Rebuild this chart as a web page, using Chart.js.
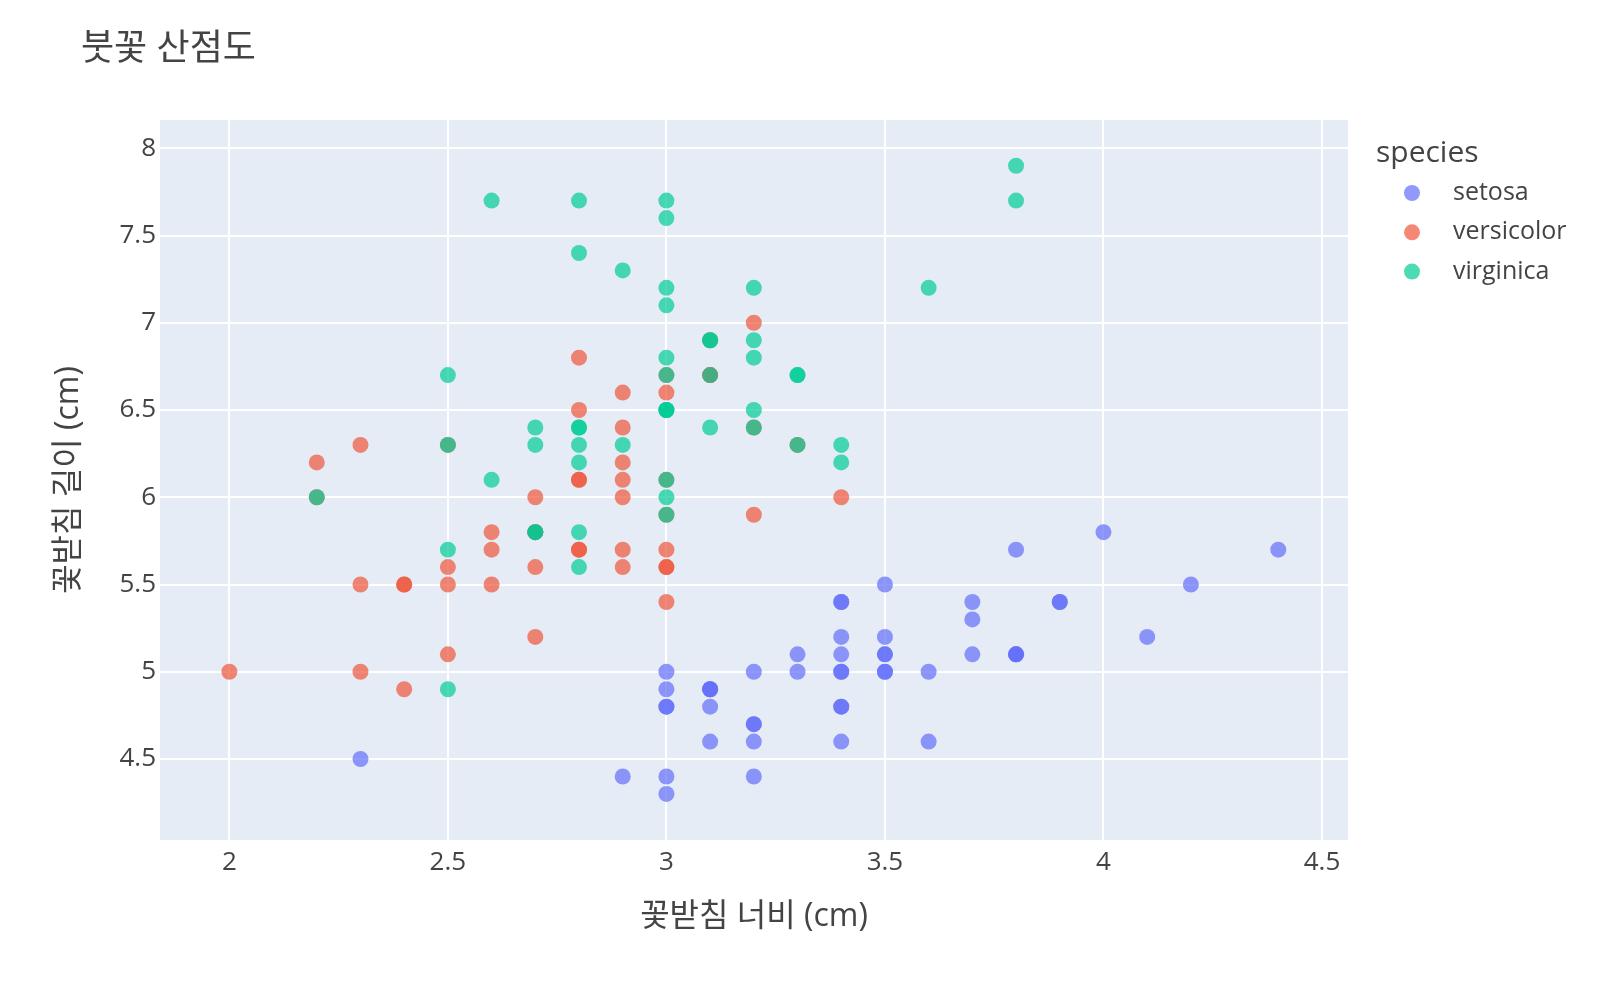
<!DOCTYPE html>
<html lang="ko">
<head>
<meta charset="utf-8">
<title>붓꽃 산점도</title>
<script src="https://cdn.jsdelivr.net/npm/chart.js@4/dist/chart.umd.min.js"></script>
<style>
  html, body { margin: 0; padding: 0; background: #fff; }
  #wrap { width: 1600px; height: 1000px; }
</style>
</head>
<body>
<div id="wrap"><canvas id="iris-chart" width="1600" height="1000"></canvas></div>
<script>
// 꽃받침 너비 / 길이 (cm), species by species
let setosaWidth = [3.5, 3.0, 3.2, 3.1, 3.6, 3.9, 3.4, 3.4, 2.9, 3.1, 3.7, 3.4, 3.0, 3.0, 4.0, 4.4, 3.9, 3.5, 3.8, 3.8,
    3.4, 3.7, 3.6, 3.3, 3.4, 3.0, 3.4, 3.5, 3.4, 3.2, 3.1, 3.4, 4.1, 4.2, 3.1, 3.2, 3.5, 3.1, 3.0, 3.4,
    3.5, 2.3, 3.2, 3.5, 3.8, 3.0, 3.8, 3.2, 3.7, 3.3];
let setosaLength = [5.1, 4.9, 4.7, 4.6, 5.0, 5.4, 4.6, 5.0, 4.4, 4.9, 5.4, 4.8, 4.8, 4.3, 5.8, 5.7, 5.4, 5.1, 5.7, 5.1,
    5.4, 5.1, 4.6, 5.1, 4.8, 5.0, 5.0, 5.2, 5.2, 4.7, 4.8, 5.4, 5.2, 5.5, 4.9, 5.0, 5.5, 4.9, 4.4, 5.1,
    5.0, 4.5, 4.4, 5.0, 5.1, 4.8, 5.1, 4.6, 5.3, 5.0];

let versicolorWidth = [3.2, 3.2, 3.1, 2.3, 2.8, 2.8, 3.3, 2.4, 2.9, 2.7, 2.0, 3.0, 2.2, 2.9, 2.9, 3.1, 3.0, 2.7, 2.2, 2.5,
    3.2, 2.8, 2.5, 2.8, 2.9, 3.0, 2.8, 3.0, 2.9, 2.6, 2.4, 2.4, 2.7, 2.7, 3.0, 3.4, 3.1, 2.3, 3.0, 2.5,
    2.6, 3.0, 2.6, 2.3, 2.7, 3.0, 2.9, 2.9, 2.5, 2.8];
let versicolorLength = [7.0, 6.4, 6.9, 5.5, 6.5, 5.7, 6.3, 4.9, 6.6, 5.2, 5.0, 5.9, 6.0, 6.1, 5.6, 6.7, 5.6, 5.8, 6.2, 5.6,
    5.9, 6.1, 6.3, 6.1, 6.4, 6.6, 6.8, 6.7, 6.0, 5.7, 5.5, 5.5, 5.8, 6.0, 5.4, 6.0, 6.7, 6.3, 5.6, 5.5,
    5.5, 6.1, 5.8, 5.0, 5.6, 5.7, 5.7, 6.2, 5.1, 5.7];

let virginicaWidth = [3.3, 2.7, 3.0, 2.9, 3.0, 3.0, 2.5, 2.9, 2.5, 3.6, 3.2, 2.7, 3.0, 2.5, 2.8, 3.2, 3.0, 3.8, 2.6, 2.2,
    3.2, 2.8, 2.8, 2.7, 3.3, 3.2, 2.8, 3.0, 2.8, 3.0, 2.8, 3.8, 2.8, 2.8, 2.6, 3.0, 3.4, 3.1, 3.0, 3.1,
    3.1, 3.1, 2.7, 3.2, 3.3, 3.0, 2.5, 3.0, 3.4, 3.0];
let virginicaLength = [6.3, 5.8, 7.1, 6.3, 6.5, 7.6, 4.9, 7.3, 6.7, 7.2, 6.5, 6.4, 6.8, 5.7, 5.8, 6.4, 6.5, 7.7, 7.7, 6.0,
    6.9, 5.6, 7.7, 6.3, 6.7, 7.2, 6.2, 6.1, 6.4, 7.2, 7.4, 7.9, 6.4, 6.3, 6.1, 7.7, 6.3, 6.4, 6.0, 6.9,
    6.7, 6.9, 5.8, 6.8, 6.7, 6.7, 6.3, 6.5, 6.2, 5.9];

let speciesNames = ["setosa", "versicolor", "virginica"];
let xTicks = [2, 2.5, 3, 3.5, 4, 4.5];
let yTicks = [4.5, 5, 5.5, 6, 6.5, 7, 7.5, 8];

// plotly colours, drawn at 0.7 opacity
const colors = ["rgba(99, 110, 250, 0.7)", "rgba(239, 85, 59, 0.7)", "rgba(0, 204, 150, 0.7)"];
const fontFamily = "'Open Sans', 'Noto Sans CJK KR', sans-serif";
const textColor = "#444";

function toPoints(xs, ys) {
    return xs.map((x, i) => ({ x: x, y: ys[i] }));
}

let irisData = {
    datasets: [
        { label: speciesNames[0], data: toPoints(setosaWidth, setosaLength) },
        { label: speciesNames[1], data: toPoints(versicolorWidth, versicolorLength) },
        { label: speciesNames[2], data: toPoints(virginicaWidth, virginicaLength) }
    ].map((ds, i) => Object.assign(ds, {
        backgroundColor: colors[i],
        borderWidth: 0,
        pointRadius: 8,
        pointHoverRadius: 8,
        order: 2 - i   // later species drawn on top, like plotly
    }))
};

// plot background
const plotBackground = {
    id: 'plotBackground',
    beforeDraw(chart) {
        const { ctx, chartArea: a } = chart;
        ctx.save();
        ctx.fillStyle = "#E5ECF6";
        ctx.fillRect(a.left, a.top, a.right - a.left, a.bottom - a.top);
        ctx.restore();
    }
};

// title + legend, plotly style
const titleAndLegend = {
    id: 'titleAndLegend',
    afterDraw(chart) {
        const ctx = chart.ctx;
        ctx.save();
        ctx.fillStyle = textColor;
        ctx.textBaseline = 'middle';
        ctx.textAlign = 'left';
        ctx.font = "36px " + fontFamily;
        ctx.fillText("붓꽃 산점도", 81, 50);

        ctx.font = "30px " + fontFamily;
        ctx.fillText("species", 1376, 153);

        ctx.font = "25px " + fontFamily;
        chart.data.datasets.forEach((ds, i) => {
            const y = 193 + i * 39.3;
            ctx.beginPath();
            ctx.arc(1412, y, 8, 0, Math.PI * 2);
            ctx.fillStyle = ds.backgroundColor;
            ctx.fill();
            ctx.fillStyle = textColor;
            ctx.fillText(ds.label, 1453, y);
        });
        ctx.restore();
    }
};

let irisOptions = {
    responsive: false,
    animation: false,
    events: [],
    layout: {
        padding: { top: 120, right: 252, left: 0, bottom: 0 }
    },
    scales: {
        x: {
            type: 'linear',
            min: 1.8413,
            max: 4.5595,
            afterBuildTicks: (scale) => { scale.ticks = xTicks.map(v => ({ value: v })); },
            afterFit: (scale) => { scale.height = 160; },
            grid: { color: "#fff", lineWidth: 2, drawTicks: false },
            border: { display: false },
            ticks: {
                padding: 7,
                color: textColor,
                font: { family: fontFamily, size: 26 },
                callback: (v) => String(v)
            },
            title: {
                display: true,
                text: "꽃받침 너비 (cm)",
                color: textColor,
                font: { family: fontFamily, size: 32, lineHeight: 1.2 },
                padding: { top: 0, bottom: 64 }
            }
        },
        y: {
            type: 'linear',
            min: 4.036,
            max: 8.162,
            afterBuildTicks: (scale) => { scale.ticks = yTicks.map(v => ({ value: v })); },
            afterFit: (scale) => { scale.width = 160; },
            grid: { color: "#fff", lineWidth: 2, drawTicks: false },
            border: { display: false },
            ticks: {
                padding: 4,
                color: textColor,
                font: { family: fontFamily, size: 26 },
                callback: (v) => String(v)
            },
            title: {
                display: true,
                text: "꽃받침 길이 (cm)",
                color: textColor,
                font: { family: fontFamily, size: 32, lineHeight: 1.2 },
                padding: { top: 50, bottom: 0 }
            }
        }
    },
    plugins: {
        legend: { display: false },
        title: { display: false },
        tooltip: { enabled: false }
    }
};

let irisChart = new Chart(document.getElementById("iris-chart"), {
    type: 'scatter',
    data: irisData,
    options: irisOptions,
    plugins: [plotBackground, titleAndLegend]
});
</script>
</body>
</html>
